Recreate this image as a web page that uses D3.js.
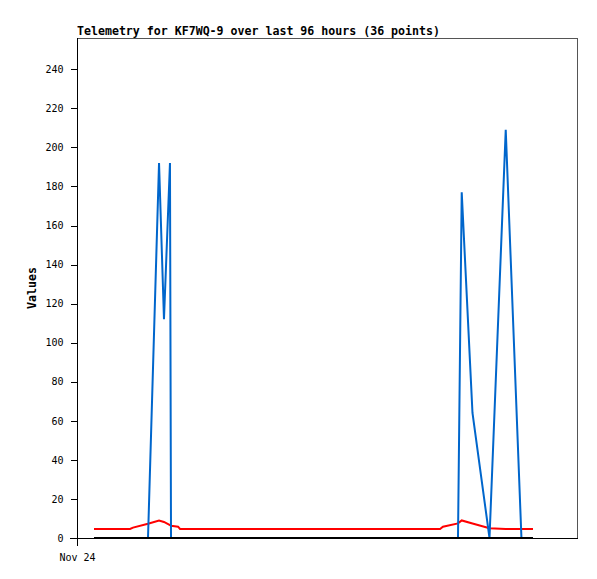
<!DOCTYPE html>
<html>
<head>
<meta charset="utf-8">
<script src="https://cdn.jsdelivr.net/npm/d3@7"></script>
<style>
  body { margin: 0; background: #fff; }
  svg { display: block; }
</style>
</head>
<body>
<svg width="597" height="579"></svg>
<script>
// Telemetry samples (visible vertices only)
const times = [
  "2024-11-24T03:16", "2024-11-24T10:11", "2024-11-24T10:45", "2024-11-24T13:38",
  "2024-11-24T15:45", "2024-11-24T16:42", "2024-11-24T17:51", "2024-11-24T18:03",
  "2024-11-24T19:24", "2024-11-24T19:47", "2024-11-26T21:42", "2024-11-26T22:16",
  "2024-11-27T01:09", "2024-11-27T01:52", "2024-11-27T03:56", "2024-11-27T07:12",
  "2024-11-27T10:19", "2024-11-27T13:20", "2024-11-27T15:33"
];
const blueValues = [0, 0, 0, 0, 192, 112, 192, 0, 0, 0, 0, 0, 0, 177, 64, 0, 209, 0, 0];
const redValues = [4.6, 4.6, 5.3, 7.3, 9.0, 8.2, 6.6, 6.3, 5.8, 4.6, 4.6, 5.8, 7.5, 9.0, 7.4, 5.0, 4.6, 4.6, 4.6];
const blackValues = [0, 0, 0, 0, 0, 0, 0, 0, 0, 0, 0, 0, 0, 0, 0, 0, 0, 0, 0];
const yTicks = [0, 20, 40, 60, 80, 100, 120, 140, 160, 180, 200, 220, 240];
const xStart = "2024-11-24T00:00";
const xEnd = "2024-11-28T00:00";
const title = "Telemetry for KF7WQ-9 over last 96 hours (36 points)";

const svg = d3.select("svg");
const parse = d3.timeParse("%Y-%m-%dT%H:%M");
const plotLeft = 77, plotRight = 577, plotTop = 38, plotBottom = 538;

const x = d3.scaleTime().domain([parse(xStart), parse(xEnd)]).range([plotLeft, plotRight]);
const y = d3.scaleLinear().domain([0, 256]).range([plotBottom, plotTop]);

const dates = times.map(parse);

// frame (top + right)
svg.append("path")
  .attr("d", `M${plotLeft},${plotTop + 0.5}H${plotRight + 0.5}V${plotBottom}`)
  .attr("fill", "none")
  .attr("stroke", "#555")
  .attr("shape-rendering", "crispEdges");

// series
const line = d3.line().x((d, i) => x(dates[i])).y(d => y(d));
const series = [
  { values: redValues, color: "#ff0000" },
  { values: blueValues, color: "#0066cc" },
  { values: blackValues, color: "#000000" }
];
svg.append("g")
  .selectAll("path")
  .data(series)
  .join("path")
  .attr("d", d => line(d.values))
  .attr("fill", "none")
  .attr("stroke", d => d.color)
  .attr("stroke-width", 2);

// y axis
const yAxis = svg.append("g")
  .attr("transform", `translate(${plotLeft + 0.5},0)`)
  .call(d3.axisLeft(y).tickValues(yTicks).tickSize(7).tickSizeOuter(0).tickPadding(7));
yAxis.select(".domain").attr("d", `M0,${plotTop}V${plotBottom}`);

// x axis
const xAxis = svg.append("g")
  .attr("transform", `translate(0,${plotBottom + 0.5})`)
  .call(d3.axisBottom(x).tickValues([parse(xStart)]).tickFormat(d3.timeFormat("%b %d"))
    .tickSize(7).tickSizeOuter(0).tickPadding(8));
xAxis.select(".domain").attr("d", `M${plotLeft - 7},0H${plotRight + 1}`);

svg.selectAll(".tick line, .domain")
  .attr("stroke", "#000")
  .attr("shape-rendering", "crispEdges");
svg.selectAll(".tick text")
  .attr("fill", "#000")
  .style("font-family", "'DejaVu Sans Mono', monospace")
  .style("font-size", "10px");

// title
svg.append("text")
  .attr("x", plotLeft)
  .attr("y", 35)
  .style("font-family", "'DejaVu Sans Mono', monospace")
  .style("font-size", "11.6px")
  .style("font-weight", "bold")
  .text(title);

// y label
svg.append("text")
  .attr("transform", `translate(36,${(plotTop + plotBottom) / 2}) rotate(-90)`)
  .attr("text-anchor", "middle")
  .style("font-family", "'DejaVu Sans Mono', monospace")
  .style("font-size", "11.6px")
  .style("font-weight", "bold")
  .text("Values");
</script>
</body>
</html>
